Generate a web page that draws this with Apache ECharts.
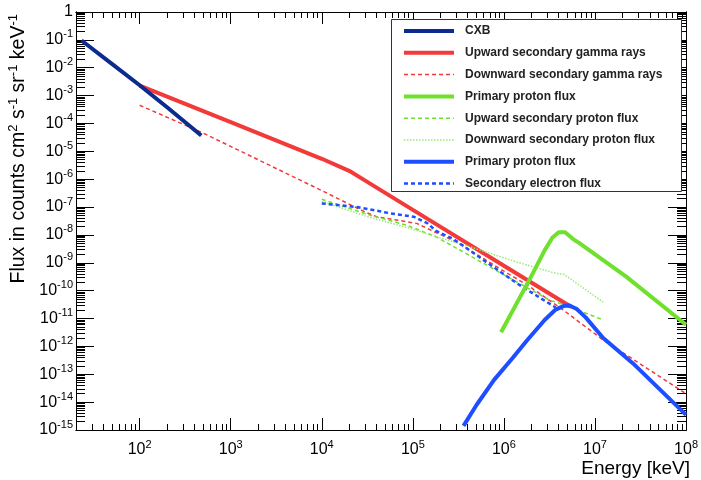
<!DOCTYPE html>
<html><head><meta charset="utf-8">
<script src="https://cdn.jsdelivr.net/npm/echarts@6/dist/echarts.min.js"></script>
<style>html,body{margin:0;padding:0;background:#fff}#c{width:701px;height:480px}</style>
</head><body><div id="c"></div>
<script>
// ---- data (energy in keV, flux) ----
const cxbE = [23, 50, 100, 200, 475];
const cxbF = [9.5e-2, 1.35e-2, 2.35e-3, 3.8e-4, 3.7e-5];

const upGammaE = [100, 1000, 10000, 20000, 30000, 1e5, 1e6, 5.5e6];
const upGammaF = [2.3e-3, 1.12e-4, 5.4e-6, 2.0e-6, 8.9e-7, 7.9e-8, 7.8e-10, 2.6e-11];

const downGammaE = [100, 480, 1e4, 3e4, 4e4, 1.1e5, 3.2e5, 1e6, 1.8e6, 4.5e6, 1.2e7, 2.6e7, 1e8];
const downGammaF = [4.5e-4, 4.8e-5, 3.9e-7, 6.6e-8, 4.5e-8, 2.6e-8, 5.0e-9, 5.0e-10, 1.6e-10, 2.0e-11, 1.8e-12, 3.5e-13, 2.0e-14];

const primProtonE = [9.3e5, 1.38e6, 1.9e6, 2.8e6, 3.4e6, 4.0e6, 4.7e6, 5.75e6, 6.8e6, 2.2e7, 1e8];
const primProtonF = [3.2e-12, 3.5e-11, 2.4e-10, 2.8e-9, 7.9e-9, 1.26e-8, 1.26e-8, 7.1e-9, 5.0e-9, 3.2e-10, 6.0e-12];

const upProtonE = [1e4, 3.4e4, 8.7e4, 1.8e5, 4e5, 1e6, 3.2e6, 4.5e6, 1.23e7];
const upProtonF = [1.9e-7, 5.1e-8, 2.2e-8, 8.5e-9, 2.0e-9, 3.7e-10, 4.5e-11, 3.2e-11, 8.9e-12];

const downProtonE = [1e4, 3.2e4, 1e5, 1.45e5, 4e5, 1.4e6, 3.7e6, 4.6e6, 1.23e7];
const downProtonF = [1.6e-7, 4.5e-8, 1.6e-8, 1.07e-8, 4.0e-9, 1.05e-9, 4.2e-10, 3.8e-10, 3.9e-11];

const primProton2E = [3.6e5, 5e5, 7.8e5, 1.26e6, 1.78e6, 2.8e6, 3.7e6, 4.5e6, 5.25e6, 6.3e6, 7.9e6, 1.23e7, 2.6e7, 1e8];
const primProton2F = [1.4e-15, 7.9e-15, 6.3e-14, 4.0e-13, 1.6e-12, 8.9e-12, 2.1e-11, 2.8e-11, 2.95e-11, 2.2e-11, 1.1e-11, 2.0e-12, 2.5e-13, 3.5e-15];

const secElecE = [1e4, 2.45e4, 5.6e4, 1.02e5, 1.45e5, 1.8e5, 2.8e5, 6.3e5, 1.6e6, 3.7e6];
const secElecF = [1.35e-7, 1.0e-7, 6.0e-8, 4.5e-8, 2.6e-8, 1.4e-8, 7.1e-9, 1.1e-9, 1.35e-10, 2.5e-11];

const xTickValues = [1e2, 1e3, 1e4, 1e5, 1e6, 1e7, 1e8];
const yTickValues = [1e-15,1e-14,1e-13,1e-12,1e-11,1e-10,1e-9,1e-8,1e-7,1e-6,1e-5,1e-4,1e-3,1e-2,1e-1,1];
const legendNames = ['CXB', 'Upward secondary gamma rays', 'Downward secondary gamma rays',
  'Primary proton flux', 'Upward secondary proton flux', 'Downward secondary proton flux',
  'Primary proton flux ', 'Secondary electron flux'];

// ---- helpers ----
const FONT = 'Liberation Sans, Arial, Helvetica, sans-serif';
function zip(a, b) { return a.map((v, i) => [v, b[i]]); }
function minorTicksRange(lo, hi) {
  const out = [];
  const d0 = Math.floor(Math.log10(lo)), d1 = Math.ceil(Math.log10(hi));
  for (let d = d0; d <= d1; d++) for (let m = 2; m <= 9; m++) {
    const v = m * Math.pow(10, d);
    if (v >= lo * 0.999 && v <= hi * 1.001) out.push(v);
  }
  return out;
}
const xMinor = minorTicksRange(20, 1e8);
const yMinor = minorTicksRange(1e-15, 1);
function expLabel(v) {
  const e = Math.round(Math.log10(v));
  if (e === 0) return '1';
  return '10{sup|' + e + '}';
}
const labelRich = { sup: { fontSize: 11, fontFamily: FONT, color: '#000', verticalAlign: 'top', lineHeight: 11 } };

function xAx(pos, ticks, len, labels) {
  return {
    type: 'log', logBase: 10, min: 20, max: 1e8, position: pos,
    axisLine: { show: labels !== null, onZero: false, lineStyle: { color: '#000', width: 1 } },
    axisTick: { show: true, inside: true, length: len, customValues: ticks, lineStyle: { color: '#000', width: 1 } },
    axisLabel: labels ? { show: true, customValues: ticks, formatter: expLabel, rich: labelRich,
      fontSize: 16, lineHeight: 22, fontFamily: FONT, color: '#000', margin: 9 } : { show: false },
    splitLine: { show: false }, minorTick: { show: false }
  };
}
function yAx(pos, ticks, len, labels) {
  return {
    type: 'log', logBase: 10, min: 1e-15, max: 1, position: pos,
    axisLine: { show: labels !== null, onZero: false, lineStyle: { color: '#000', width: 1 } },
    axisTick: { show: true, inside: true, length: len, customValues: ticks, lineStyle: { color: '#000', width: 1 } },
    axisLabel: labels ? { show: true, customValues: ticks, formatter: expLabel, rich: labelRich,
      fontSize: 16, lineHeight: 22, fontFamily: FONT, color: '#000', margin: 3 } : { show: false },
    splitLine: { show: false }, minorTick: { show: false }
  };
}

function lineSeries(name, E, F, color, width, type, z) {
  return {
    name: name, type: 'line', data: zip(E, F), symbol: 'none', showSymbol: false,
    xAxisIndex: 0, yAxisIndex: 0, z: z, silent: true,
    lineStyle: { color: color, width: width, type: type },
    itemStyle: { color: color }
  };
}

const RED = '#f23a3a', NAVY = '#0c2b8e', GREEN = '#6fe02c', BLUE = '#1d4eff';

const option = {
  animation: false,
  backgroundColor: '#fff',
  grid: { left: 76, top: 12, width: 616, height: 418, containLabel: false },
  xAxis: [
    xAx('bottom', xTickValues, 12, true),
    xAx('bottom', xMinor, 6, false),
    xAx('top', xTickValues, 12, false),
    xAx('top', xMinor, 6, false)
  ],
  yAxis: [
    yAx('left', yTickValues, 18, true),
    yAx('left', yMinor, 9, false),
    yAx('right', yTickValues, 18, false),
    yAx('right', yMinor, 9, false)
  ],
  legend: {
    orient: 'vertical', left: 402, top: 25, padding: 0, z: 12,
    itemWidth: 50, itemHeight: 14, itemGap: 9.8,
    selectedMode: false,
    itemStyle: { opacity: 0 },
    lineStyle: { width: 'inherit' },
    textStyle: { fontSize: 12, fontWeight: 'bold', color: '#222', fontFamily: FONT, padding: [0, 0, 0, 6] },
    data: legendNames
  },
  graphic: [
    { type: 'rect', z: 10, shape: { x: 391.5, y: 19.5, width: 290, height: 172 },
      style: { fill: '#fff', stroke: '#333', lineWidth: 1 } },
    { type: 'text', z: 10, x: 690, y: 469,
      style: { text: 'Energy [keV]', fontSize: 19, fontFamily: FONT, fill: '#000', align: 'right', verticalAlign: 'middle' } },
    { type: 'text', z: 10, x: 19, y: 14, rotation: Math.PI / 2,
      style: { text: 'Flux in counts cm{sup|2} s{sup|-1} sr{sup|-1} keV{sup|-1}', fontSize: 19.5, lineHeight: 24,
        fontFamily: FONT, fill: '#000', align: 'right', verticalAlign: 'middle',
        rich: { sup: { fontSize: 13, fontFamily: FONT, fill: '#000', verticalAlign: 'top', lineHeight: 14 } } } }
  ],
  series: [
    lineSeries(legendNames[0], cxbE, cxbF, NAVY, 4, 'solid', 5),
    lineSeries(legendNames[1], upGammaE, upGammaF, RED, 4, 'solid', 3),
    lineSeries(legendNames[2], downGammaE, downGammaF, RED, 1.5, [4, 3], 4),
    lineSeries(legendNames[3], primProtonE, primProtonF, GREEN, 4, 'solid', 6),
    lineSeries(legendNames[4], upProtonE, upProtonF, GREEN, 1.5, [4, 3], 4),
    lineSeries(legendNames[5], downProtonE, downProtonF, '#9be87a', 1.5, [1.5, 1.5], 4),
    lineSeries(legendNames[6], primProton2E, primProton2F, BLUE, 4, 'solid', 6),
    lineSeries(legendNames[7], secElecE, secElecF, BLUE, 2.5, [4, 3], 4)
  ]
};
const chart = echarts.init(document.getElementById('c'), null, { renderer: 'canvas' });
chart.setOption(option);
</script>
</body></html>
